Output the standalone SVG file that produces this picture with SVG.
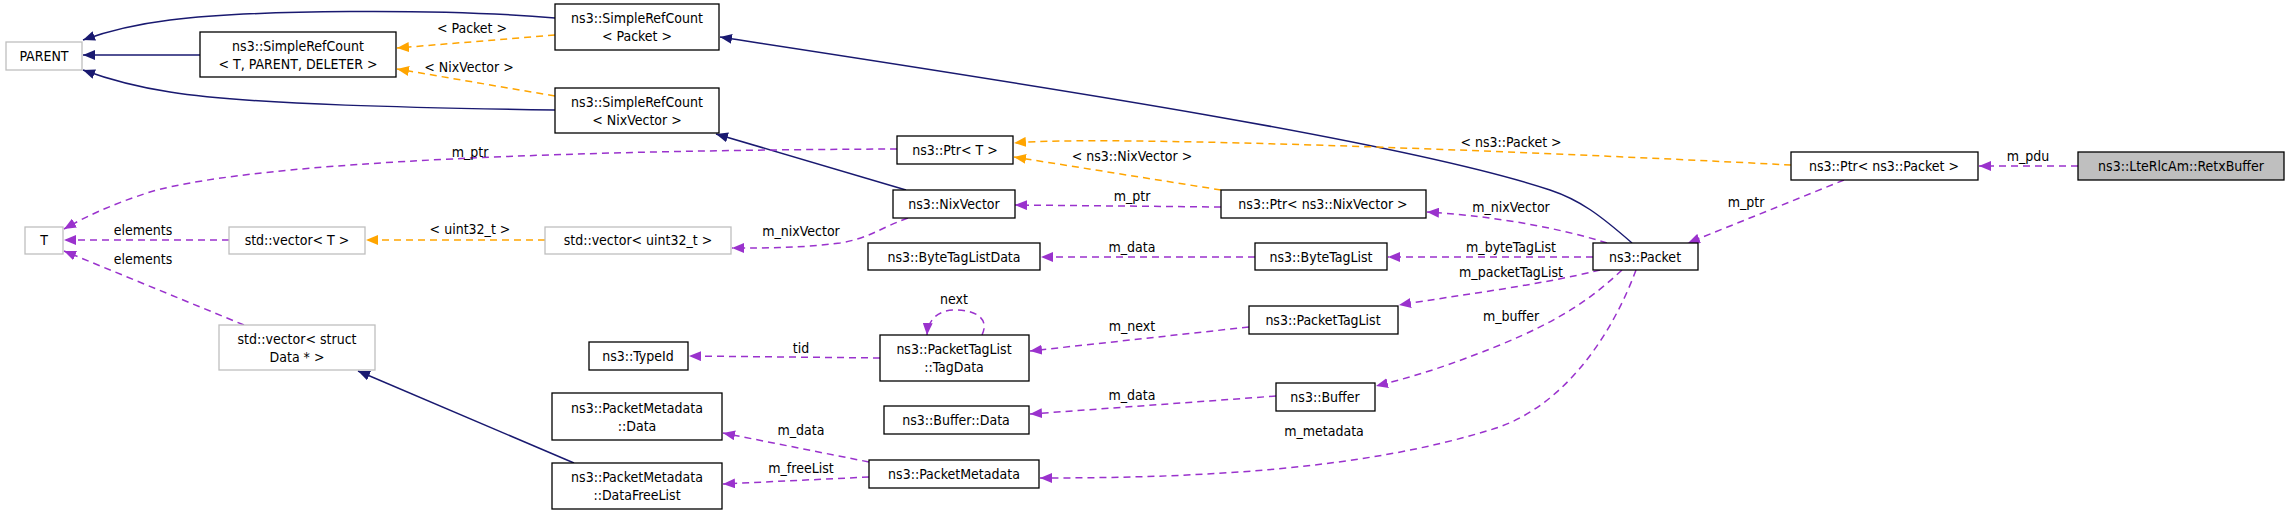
<svg xmlns="http://www.w3.org/2000/svg" width="2291" height="515" viewBox="0 0 2291 515">
<defs>
<marker id="an" viewBox="0 0 12 10" refX="12" refY="5" markerWidth="12" markerHeight="10" markerUnits="userSpaceOnUse" orient="auto"><path d="M0,0 L12,5 L0,10 z" fill="#191970"/></marker>
<marker id="ao" viewBox="0 0 12 10" refX="12" refY="5" markerWidth="12" markerHeight="10" markerUnits="userSpaceOnUse" orient="auto"><path d="M0,0 L12,5 L0,10 z" fill="#ffa500"/></marker>
<marker id="ap" viewBox="0 0 12 10" refX="12" refY="5" markerWidth="12" markerHeight="10" markerUnits="userSpaceOnUse" orient="auto"><path d="M0,0 L12,5 L0,10 z" fill="#9a32cd"/></marker>
</defs>
<style>
text{font-family:"DejaVu Sans Condensed","DejaVu Sans",sans-serif;font-size:14px;fill:#000;text-anchor:middle}
.n{fill:#fff;stroke:#000;stroke-width:1.3}
.g{fill:#fff;stroke:#bfbfbf;stroke-width:1.3}
.s{fill:#bfbfbf;stroke:#000;stroke-width:1.3}
.inh{fill:none;stroke:#191970;stroke-width:1.5;marker-end:url(#an)}
.tpl{fill:none;stroke:#ffa500;stroke-width:1.5;stroke-dasharray:7,5;marker-end:url(#ao)}
.use{fill:none;stroke:#9a32cd;stroke-width:1.5;stroke-dasharray:7,5;marker-end:url(#ap)}
</style>
<rect width="2291" height="515" fill="#fff"/>
<g id="edges">
<path class="inh" d="M555,18 C440,8 250,10 170,20 C130,25 105,32 83,40"/>
<path class="inh" d="M200,55 L83,55"/>
<path class="inh" d="M555,110 C430,108 250,105 170,92 C130,86 105,78 83,70"/>
<path class="tpl" d="M555,35 L397,48"/><text x="472" y="33">&lt; Packet &gt;</text>
<path class="tpl" d="M555,96 L397,69"/><text x="469" y="72">&lt; NixVector &gt;</text>
<path class="inh" d="M1632,243 C1600,215 1580,200 1550,190 C1400,140 1000,80 720,37"/>
<path class="inh" d="M906,190 L716,134"/>
<path class="use" d="M897,149 C600,150 260,160 150,192 C110,205 85,217 64,229"/><text x="470" y="157">m_ptr</text>
<path class="tpl" d="M1791,165 C1500,150 1100,135 1014,143"/><text x="1511" y="147">&lt; ns3::Packet &gt;</text>
<path class="tpl" d="M1221,190 L1014,157"/><text x="1132" y="161">&lt; ns3::NixVector &gt;</text>
<path class="use" d="M1221,207 L1015,205"/><text x="1132" y="201">m_ptr</text>
<path class="tpl" d="M545,240 L366,240"/><text x="470" y="234">&lt; uint32_t &gt;</text>
<path class="use" d="M229,240 L64,240"/><text x="143" y="235">elements</text>
<path class="use" d="M244,325 L64,251"/><text x="143" y="264">elements</text>
<path class="use" d="M908,218 C880,228 870,238 840,243 C800,248 770,248 732,248"/><text x="801" y="236">m_nixVector</text>
<path class="use" d="M1255,257 L1041,257"/><text x="1132" y="252">m_data</text>
<path class="use" d="M1593,257 L1388,257"/><text x="1511" y="252">m_byteTagList</text>
<path class="use" d="M1607,243 C1550,225 1480,215 1427,212"/><text x="1511" y="212">m_nixVector</text>
<path class="use" d="M1844,180 L1688,243"/><text x="1746" y="207">m_ptr</text>
<path class="use" d="M2078,166 L1979,166"/><text x="2028" y="161">m_pdu</text>
<path class="use" d="M1600,270 C1540,285 1460,295 1399,305"/><text x="1511" y="277">m_packetTagList</text>
<path class="use" d="M1622,270 C1590,300 1560,320 1500,345 C1450,365 1420,375 1376,386"/><text x="1511" y="321">m_buffer</text>
<path class="use" d="M1636,270 C1610,340 1560,410 1490,430 C1360,470 1200,478 1040,478"/><text x="1324" y="436">m_metadata</text>
<path class="use" d="M1249,327 L1030,351"/><text x="1132" y="331">m_next</text>
<path class="use" d="M982,335 C990,318 975,310 955,310 C940,310 928,318 927,335"/><text x="954" y="304">next</text>
<path class="use" d="M880,358 L689,356"/><text x="801" y="353">tid</text>
<path class="use" d="M1276,396 L1030,414"/><text x="1132" y="400">m_data</text>
<path class="use" d="M869,462 L723,433"/><text x="801" y="435">m_data</text>
<path class="use" d="M869,477 L723,484"/><text x="801" y="473">m_freeList</text>
<path class="inh" d="M574,463 L358,371"/>
</g>
<g id="n_parent"><rect class="g" x="6" y="42" width="76" height="28"/><text x="44" y="61">PARENT</text></g>
<g id="n_src"><rect class="n" x="200" y="32" width="196" height="45"/><text x="298" y="51">ns3::SimpleRefCount</text><text x="298" y="69">&lt; T, PARENT, DELETER &gt;</text></g>
<g id="n_src_packet"><rect class="n" x="555" y="4" width="164" height="46"/><text x="637" y="23">ns3::SimpleRefCount</text><text x="637" y="41">&lt; Packet &gt;</text></g>
<g id="n_src_nix"><rect class="n" x="555" y="88" width="164" height="45"/><text x="637" y="107">ns3::SimpleRefCount</text><text x="637" y="125">&lt; NixVector &gt;</text></g>
<g id="n_ptr_t"><rect class="n" x="897" y="136" width="116" height="28"/><text x="955" y="155">ns3::Ptr&lt; T &gt;</text></g>
<g id="n_nixvector"><rect class="n" x="893" y="190" width="122" height="28"/><text x="954" y="209">ns3::NixVector</text></g>
<g id="n_ptr_nix"><rect class="n" x="1221" y="190" width="205" height="28"/><text x="1323" y="209">ns3::Ptr&lt; ns3::NixVector &gt;</text></g>
<g id="n_btld"><rect class="n" x="868" y="243" width="172" height="27"/><text x="954" y="262">ns3::ByteTagListData</text></g>
<g id="n_btl"><rect class="n" x="1255" y="243" width="132" height="27"/><text x="1321" y="262">ns3::ByteTagList</text></g>
<g id="n_packet"><rect class="n" x="1593" y="243" width="105" height="27"/><text x="1645" y="262">ns3::Packet</text></g>
<g id="n_ptr_packet"><rect class="n" x="1791" y="152" width="187" height="28"/><text x="1884" y="171">ns3::Ptr&lt; ns3::Packet &gt;</text></g>
<g id="n_retx"><rect class="s" x="2078" y="152" width="206" height="28"/><text x="2181" y="171">ns3::LteRlcAm::RetxBuffer</text></g>
<g id="n_t"><rect class="g" x="25" y="227" width="38" height="27"/><text x="44" y="245">T</text></g>
<g id="n_vec_t"><rect class="g" x="229" y="227" width="136" height="27"/><text x="297" y="245">std::vector&lt; T &gt;</text></g>
<g id="n_vec_u32"><rect class="g" x="545" y="227" width="186" height="27"/><text x="638" y="245">std::vector&lt; uint32_t &gt;</text></g>
<g id="n_vec_data"><rect class="g" x="219" y="325" width="156" height="45"/><text x="297" y="344">std::vector&lt; struct</text><text x="297" y="362">Data * &gt;</text></g>
<g id="n_typeid"><rect class="n" x="589" y="342" width="99" height="28"/><text x="638" y="361">ns3::TypeId</text></g>
<g id="n_tagdata"><rect class="n" x="880" y="335" width="149" height="46"/><text x="954" y="354">ns3::PacketTagList</text><text x="954" y="372">::TagData</text></g>
<g id="n_ptl"><rect class="n" x="1249" y="306" width="149" height="28"/><text x="1323" y="325">ns3::PacketTagList</text></g>
<g id="n_buffer"><rect class="n" x="1276" y="383" width="99" height="28"/><text x="1325" y="402">ns3::Buffer</text></g>
<g id="n_buffer_data"><rect class="n" x="884" y="406" width="145" height="28"/><text x="956" y="425">ns3::Buffer::Data</text></g>
<g id="n_pm_data"><rect class="n" x="552" y="393" width="170" height="47"/><text x="637" y="413">ns3::PacketMetadata</text><text x="637" y="431">::Data</text></g>
<g id="n_pm"><rect class="n" x="869" y="460" width="170" height="28"/><text x="954" y="479">ns3::PacketMetadata</text></g>
<g id="n_pm_free"><rect class="n" x="552" y="463" width="170" height="46"/><text x="637" y="482">ns3::PacketMetadata</text><text x="637" y="500">::DataFreeList</text></g>
</svg>
